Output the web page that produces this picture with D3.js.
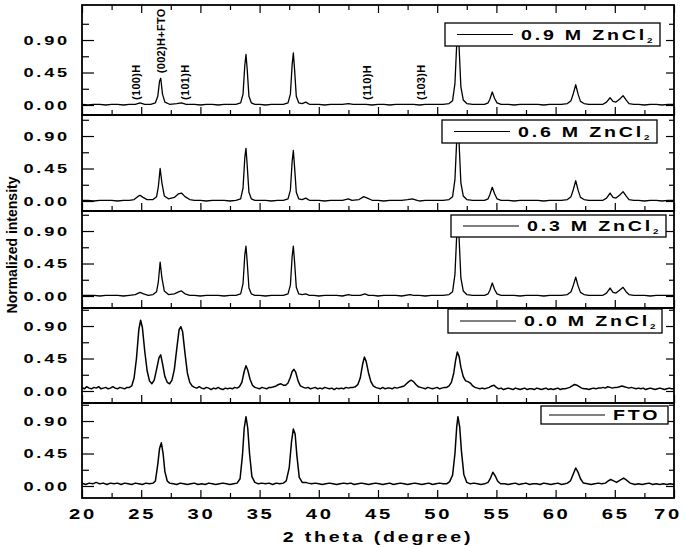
<!DOCTYPE html>
<html>
<head>
<meta charset="utf-8">
<script src="https://cdn.jsdelivr.net/npm/d3@7"></script>
<style>
  body { margin: 0; background: #fff; }
  svg { display: block; }
  text { font-family: "Liberation Sans", Arial, sans-serif; fill: #000; }
</style>
</head>
<body>
<div id="chart"></div>
<script>
// ---- data ----
const seriesLabels = ["0.9 M ZnCl", "0.6 M ZnCl", "0.3 M ZnCl", "0.0 M ZnCl", "FTO"];
const seriesSubs = ["2", "2", "2", "2", ""];

const xTicksMajor = [20, 25, 30, 35, 40, 45, 50, 55, 60, 65, 70];
const xTicksMinor = [22.5, 27.5, 32.5, 37.5, 42.5, 47.5, 52.5, 57.5, 62.5, 67.5];
const yTicksMajor = [0, 0.45, 0.9];
const yTicksMinor = [0.225, 0.675, 1.125];
const yTickLabels = ["0.00", "0.45", "0.90"];

const peakLabels = ["(100)H", "(002)H+FTO", "(101)H", "(110)H", "(103)H"];
const peakLabelAngles = [24.6, 26.7, 28.7, 44.1, 48.6];
const peakLabelBase = [0.07, 0.44, 0.07, 0.07, 0.07];

const spec09 = [[20.0,0.01],[20.5,0.00],[21.0,0.01],[21.5,0.01],[22.0,0.00],[22.5,0.01],[23.0,0.01],[23.5,0.00],[24.0,0.01],[24.5,0.01],[24.9,0.03],[25.3,0.01],[25.8,0.01],[26.2,0.03],[26.4,0.12],[26.55,0.33],[26.65,0.37],[26.8,0.15],[27.0,0.04],[27.4,0.01],[28.0,0.02],[28.4,0.03],[28.8,0.01],[29.5,0.01],[30.0,0.00],[30.5,0.01],[31.0,0.01],[31.5,0.00],[32.0,0.01],[32.5,0.01],[33.0,0.01],[33.4,0.03],[33.6,0.15],[33.75,0.55],[33.85,0.70],[33.95,0.50],[34.1,0.12],[34.3,0.03],[34.6,0.01],[35.0,0.01],[35.5,0.00],[36.0,0.01],[36.5,0.01],[37.0,0.01],[37.4,0.03],[37.6,0.15],[37.75,0.56],[37.85,0.72],[37.95,0.50],[38.1,0.12],[38.3,0.03],[38.6,0.02],[38.9,0.04],[39.2,0.01],[39.6,0.01],[40.0,0.01],[40.5,0.00],[41.0,0.01],[41.5,0.01],[42.0,0.01],[42.5,0.02],[42.9,0.01],[43.5,0.01],[44.0,0.01],[44.5,0.00],[45.0,0.01],[45.5,0.01],[46.0,0.00],[46.5,0.01],[47.0,0.01],[47.5,0.01],[48.0,0.01],[48.5,0.00],[49.0,0.01],[49.5,0.01],[50.0,0.01],[50.5,0.01],[51.0,0.02],[51.3,0.06],[51.5,0.30],[51.65,0.85],[51.75,1.00],[51.85,0.80],[52.0,0.25],[52.2,0.07],[52.5,0.02],[53.0,0.01],[53.5,0.01],[54.0,0.01],[54.3,0.03],[54.45,0.08],[54.65,0.18],[54.85,0.09],[55.05,0.03],[55.4,0.01],[56.0,0.01],[56.5,0.00],[57.0,0.01],[57.5,0.01],[58.0,0.01],[58.5,0.01],[59.0,0.00],[59.5,0.01],[60.0,0.01],[60.5,0.01],[61.0,0.02],[61.3,0.06],[61.5,0.16],[61.7,0.28],[61.9,0.15],[62.1,0.05],[62.4,0.02],[62.8,0.01],[63.5,0.01],[64.0,0.01],[64.3,0.04],[64.6,0.10],[64.85,0.05],[65.1,0.04],[65.4,0.08],[65.7,0.13],[65.95,0.07],[66.2,0.02],[66.6,0.01],[67.0,0.01],[67.5,0.00],[68.0,0.01],[68.5,0.01],[69.0,0.00],[69.5,0.01],[70.0,0.01]];

const spec06 = [[20.0,0.01],[20.5,0.01],[21.0,0.00],[21.5,0.01],[22.0,0.01],[22.5,0.01],[23.0,0.00],[23.5,0.01],[24.0,0.01],[24.4,0.02],[24.7,0.06],[24.9,0.08],[25.15,0.05],[25.5,0.02],[26.0,0.02],[26.3,0.06],[26.45,0.20],[26.6,0.45],[26.75,0.25],[26.95,0.07],[27.3,0.03],[27.8,0.05],[28.15,0.10],[28.4,0.11],[28.7,0.06],[29.1,0.02],[29.5,0.01],[30.0,0.01],[30.5,0.00],[31.0,0.01],[31.5,0.01],[32.0,0.01],[32.5,0.00],[33.0,0.01],[33.4,0.03],[33.6,0.18],[33.75,0.60],[33.85,0.73],[33.95,0.50],[34.1,0.12],[34.3,0.03],[34.6,0.01],[35.0,0.01],[35.5,0.01],[36.0,0.00],[36.5,0.01],[37.0,0.01],[37.4,0.03],[37.6,0.15],[37.75,0.55],[37.85,0.70],[37.95,0.48],[38.1,0.12],[38.3,0.03],[38.6,0.02],[38.9,0.04],[39.2,0.01],[39.6,0.01],[40.0,0.01],[40.5,0.00],[41.0,0.01],[41.5,0.01],[42.0,0.01],[42.5,0.03],[42.8,0.01],[43.4,0.02],[43.8,0.06],[44.1,0.04],[44.5,0.01],[45.0,0.01],[45.5,0.00],[46.0,0.01],[46.5,0.01],[47.0,0.01],[47.5,0.02],[47.9,0.03],[48.3,0.01],[48.5,0.00],[49.0,0.01],[49.5,0.01],[50.0,0.01],[50.5,0.01],[51.0,0.02],[51.3,0.06],[51.5,0.30],[51.65,0.85],[51.75,1.00],[51.85,0.80],[52.0,0.25],[52.2,0.07],[52.5,0.02],[53.0,0.01],[53.5,0.01],[54.0,0.01],[54.3,0.03],[54.45,0.09],[54.65,0.19],[54.85,0.10],[55.05,0.03],[55.4,0.01],[56.0,0.01],[56.5,0.00],[57.0,0.01],[57.5,0.01],[58.0,0.01],[58.5,0.01],[59.0,0.00],[59.5,0.01],[60.0,0.01],[60.5,0.01],[61.0,0.02],[61.3,0.06],[61.5,0.16],[61.7,0.28],[61.9,0.15],[62.1,0.05],[62.4,0.02],[62.8,0.01],[63.5,0.01],[64.0,0.01],[64.3,0.04],[64.6,0.11],[64.85,0.05],[65.1,0.04],[65.4,0.08],[65.7,0.13],[65.95,0.07],[66.2,0.02],[66.6,0.01],[67.0,0.01],[67.5,0.00],[68.0,0.01],[68.5,0.01],[69.0,0.00],[69.5,0.01],[70.0,0.01]];

const spec03 = [[20.0,0.01],[20.5,0.01],[21.0,0.01],[21.5,0.00],[22.0,0.01],[22.5,0.01],[23.0,0.01],[23.5,0.00],[24.0,0.01],[24.5,0.02],[24.9,0.05],[25.2,0.03],[25.6,0.01],[26.0,0.02],[26.3,0.06],[26.45,0.20],[26.6,0.47],[26.75,0.25],[26.95,0.07],[27.3,0.02],[27.8,0.03],[28.2,0.06],[28.4,0.07],[28.7,0.03],[29.1,0.01],[29.5,0.01],[30.0,0.00],[30.5,0.01],[31.0,0.01],[31.5,0.01],[32.0,0.00],[32.5,0.01],[33.0,0.01],[33.4,0.03],[33.6,0.17],[33.75,0.57],[33.85,0.69],[33.95,0.48],[34.1,0.11],[34.3,0.03],[34.6,0.01],[35.0,0.01],[35.5,0.00],[36.0,0.01],[36.5,0.01],[37.0,0.01],[37.4,0.03],[37.6,0.15],[37.75,0.55],[37.85,0.69],[37.95,0.48],[38.1,0.12],[38.3,0.03],[38.6,0.02],[38.9,0.03],[39.2,0.01],[39.6,0.01],[40.0,0.00],[40.5,0.01],[41.0,0.01],[41.5,0.01],[42.0,0.00],[42.5,0.02],[42.8,0.01],[43.5,0.01],[43.9,0.03],[44.2,0.01],[44.6,0.01],[45.0,0.00],[45.5,0.01],[46.0,0.01],[46.5,0.01],[47.0,0.00],[47.7,0.02],[48.0,0.01],[48.5,0.01],[49.0,0.00],[49.5,0.01],[50.0,0.01],[50.5,0.01],[51.0,0.02],[51.3,0.06],[51.5,0.30],[51.65,0.85],[51.75,1.00],[51.85,0.80],[52.0,0.25],[52.2,0.07],[52.5,0.02],[53.0,0.01],[53.5,0.01],[54.0,0.01],[54.3,0.03],[54.45,0.08],[54.65,0.18],[54.85,0.09],[55.05,0.03],[55.4,0.01],[56.0,0.01],[56.5,0.01],[57.0,0.00],[57.5,0.01],[58.0,0.01],[58.5,0.01],[59.0,0.00],[59.5,0.01],[60.0,0.01],[60.5,0.01],[61.0,0.02],[61.3,0.06],[61.5,0.15],[61.7,0.26],[61.9,0.14],[62.1,0.05],[62.4,0.02],[62.8,0.01],[63.5,0.01],[64.0,0.01],[64.3,0.04],[64.6,0.11],[64.85,0.05],[65.1,0.04],[65.4,0.08],[65.7,0.12],[65.95,0.06],[66.2,0.02],[66.6,0.01],[67.0,0.01],[67.5,0.01],[68.0,0.00],[68.5,0.01],[69.0,0.01],[69.5,0.01],[70.0,0.01]];

const spec00 = [[20.0,0.05],[20.2,0.03],[20.4,0.06],[20.6,0.04],[20.8,0.03],[21.0,0.05],[21.2,0.04],[21.4,0.06],[21.6,0.03],[21.8,0.04],[22.0,0.05],[22.2,0.03],[22.4,0.04],[22.6,0.06],[22.8,0.04],[23.0,0.03],[23.2,0.05],[23.4,0.04],[23.6,0.03],[23.8,0.05],[24.0,0.05],[24.2,0.07],[24.4,0.18],[24.6,0.45],[24.8,0.85],[24.95,0.98],[25.1,0.88],[25.3,0.55],[25.5,0.28],[25.7,0.14],[25.9,0.10],[26.1,0.15],[26.3,0.30],[26.5,0.46],[26.65,0.50],[26.8,0.38],[27.0,0.20],[27.2,0.12],[27.4,0.10],[27.6,0.15],[27.8,0.30],[28.0,0.58],[28.2,0.85],[28.35,0.89],[28.5,0.82],[28.7,0.52],[28.9,0.25],[29.1,0.12],[29.3,0.07],[29.5,0.05],[29.7,0.04],[29.9,0.06],[30.1,0.04],[30.3,0.03],[30.5,0.05],[30.7,0.04],[30.9,0.02],[31.1,0.04],[31.3,0.03],[31.5,0.05],[31.7,0.03],[31.9,0.02],[32.1,0.04],[32.3,0.03],[32.5,0.04],[32.7,0.03],[32.9,0.05],[33.1,0.04],[33.3,0.06],[33.5,0.12],[33.7,0.27],[33.85,0.35],[34.0,0.29],[34.2,0.16],[34.4,0.08],[34.6,0.05],[34.8,0.04],[35.0,0.03],[35.2,0.05],[35.4,0.04],[35.6,0.03],[35.8,0.05],[36.0,0.05],[36.2,0.06],[36.4,0.07],[36.6,0.09],[36.8,0.10],[37.0,0.08],[37.2,0.08],[37.4,0.11],[37.6,0.19],[37.75,0.27],[37.9,0.30],[38.05,0.26],[38.25,0.14],[38.45,0.07],[38.7,0.05],[38.9,0.04],[39.1,0.05],[39.3,0.03],[39.5,0.04],[39.7,0.05],[39.9,0.03],[40.1,0.04],[40.3,0.03],[40.5,0.05],[40.7,0.04],[40.9,0.03],[41.1,0.04],[41.3,0.02],[41.5,0.04],[41.7,0.03],[41.9,0.04],[42.1,0.03],[42.3,0.05],[42.5,0.04],[42.7,0.05],[42.9,0.05],[43.1,0.06],[43.3,0.09],[43.5,0.18],[43.7,0.37],[43.85,0.47],[44.0,0.41],[44.2,0.25],[44.4,0.13],[44.6,0.07],[44.8,0.05],[45.0,0.04],[45.2,0.03],[45.4,0.05],[45.6,0.03],[45.8,0.04],[46.0,0.04],[46.2,0.03],[46.4,0.05],[46.6,0.04],[46.8,0.05],[47.0,0.06],[47.2,0.07],[47.4,0.10],[47.6,0.13],[47.8,0.15],[48.0,0.13],[48.2,0.09],[48.4,0.06],[48.6,0.05],[48.8,0.04],[49.0,0.03],[49.2,0.05],[49.4,0.04],[49.6,0.03],[49.8,0.04],[50.0,0.05],[50.2,0.03],[50.4,0.04],[50.6,0.05],[50.8,0.05],[51.0,0.07],[51.2,0.12],[51.4,0.25],[51.55,0.42],[51.7,0.54],[51.85,0.48],[52.0,0.33],[52.2,0.20],[52.4,0.14],[52.6,0.13],[52.8,0.11],[53.0,0.07],[53.2,0.05],[53.4,0.04],[53.6,0.03],[53.8,0.04],[54.0,0.03],[54.2,0.04],[54.4,0.05],[54.6,0.07],[54.8,0.08],[55.0,0.05],[55.2,0.03],[55.4,0.04],[55.6,0.02],[55.8,0.03],[56.0,0.04],[56.2,0.03],[56.4,0.02],[56.6,0.04],[56.8,0.03],[57.0,0.02],[57.2,0.03],[57.4,0.04],[57.6,0.02],[57.8,0.03],[58.0,0.03],[58.2,0.02],[58.4,0.04],[58.6,0.03],[58.8,0.02],[59.0,0.03],[59.2,0.04],[59.4,0.02],[59.6,0.03],[59.8,0.02],[60.0,0.03],[60.2,0.04],[60.4,0.02],[60.6,0.03],[60.8,0.03],[61.0,0.04],[61.2,0.05],[61.4,0.07],[61.6,0.09],[61.8,0.08],[62.0,0.06],[62.2,0.04],[62.4,0.03],[62.6,0.03],[62.8,0.02],[63.0,0.03],[63.2,0.04],[63.4,0.03],[63.6,0.04],[63.8,0.04],[64.0,0.05],[64.2,0.04],[64.4,0.06],[64.6,0.05],[64.8,0.04],[65.0,0.05],[65.2,0.05],[65.4,0.06],[65.6,0.07],[65.8,0.06],[66.0,0.05],[66.2,0.04],[66.4,0.05],[66.6,0.04],[66.8,0.03],[67.0,0.04],[67.2,0.03],[67.4,0.04],[67.6,0.02],[67.8,0.03],[68.0,0.04],[68.2,0.03],[68.4,0.02],[68.6,0.03],[68.8,0.04],[69.0,0.03],[69.2,0.02],[69.4,0.03],[69.6,0.04],[69.8,0.03],[70.0,0.03]];

const specFTO = [[20.0,0.04],[20.3,0.02],[20.6,0.04],[20.9,0.03],[21.2,0.05],[21.5,0.03],[21.8,0.04],[22.1,0.02],[22.4,0.04],[22.7,0.03],[23.0,0.04],[23.3,0.02],[23.6,0.04],[23.9,0.03],[24.2,0.02],[24.5,0.04],[24.8,0.03],[25.1,0.02],[25.4,0.04],[25.7,0.03],[26.0,0.04],[26.2,0.07],[26.4,0.30],[26.55,0.52],[26.7,0.60],[26.85,0.45],[27.0,0.20],[27.2,0.07],[27.4,0.04],[27.7,0.03],[28.0,0.02],[28.3,0.04],[28.6,0.03],[28.9,0.02],[29.2,0.03],[29.5,0.04],[29.8,0.02],[30.1,0.03],[30.4,0.02],[30.7,0.04],[31.0,0.03],[31.3,0.02],[31.6,0.03],[31.9,0.04],[32.2,0.03],[32.5,0.02],[32.8,0.03],[33.1,0.04],[33.35,0.10],[33.55,0.42],[33.7,0.80],[33.85,0.96],[34.0,0.80],[34.15,0.45],[34.35,0.13],[34.6,0.05],[34.9,0.03],[35.2,0.04],[35.5,0.03],[35.8,0.04],[36.1,0.02],[36.4,0.04],[36.7,0.03],[37.0,0.04],[37.25,0.07],[37.5,0.25],[37.7,0.62],[37.85,0.79],[38.0,0.72],[38.15,0.42],[38.35,0.12],[38.6,0.05],[38.9,0.05],[39.1,0.04],[39.4,0.03],[39.7,0.04],[40.0,0.03],[40.3,0.02],[40.6,0.03],[40.9,0.04],[41.2,0.03],[41.5,0.02],[41.8,0.03],[42.1,0.04],[42.4,0.03],[42.7,0.04],[43.0,0.02],[43.3,0.03],[43.6,0.04],[43.9,0.03],[44.2,0.02],[44.5,0.03],[44.8,0.04],[45.1,0.03],[45.4,0.02],[45.7,0.03],[46.0,0.04],[46.3,0.02],[46.6,0.03],[46.9,0.04],[47.2,0.03],[47.5,0.02],[47.8,0.03],[48.1,0.04],[48.4,0.03],[48.7,0.02],[49.0,0.03],[49.3,0.04],[49.6,0.02],[49.9,0.03],[50.2,0.04],[50.5,0.03],[50.8,0.03],[51.05,0.06],[51.3,0.15],[51.5,0.45],[51.65,0.82],[51.75,0.96],[51.9,0.82],[52.05,0.48],[52.25,0.16],[52.5,0.05],[52.8,0.03],[53.1,0.04],[53.4,0.03],[53.7,0.02],[54.0,0.03],[54.3,0.05],[54.5,0.11],[54.7,0.19],[54.9,0.14],[55.1,0.07],[55.35,0.03],[55.7,0.03],[56.0,0.02],[56.3,0.03],[56.6,0.04],[56.9,0.02],[57.2,0.03],[57.5,0.04],[57.8,0.02],[58.1,0.03],[58.4,0.03],[58.7,0.02],[59.0,0.04],[59.3,0.03],[59.6,0.02],[59.9,0.03],[60.2,0.04],[60.5,0.02],[60.8,0.03],[61.0,0.04],[61.25,0.07],[61.45,0.15],[61.7,0.25],[61.9,0.19],[62.1,0.10],[62.35,0.04],[62.7,0.03],[63.0,0.02],[63.3,0.03],[63.6,0.04],[63.9,0.03],[64.2,0.04],[64.45,0.07],[64.65,0.09],[64.9,0.07],[65.15,0.05],[65.45,0.08],[65.75,0.11],[66.0,0.08],[66.3,0.04],[66.7,0.02],[67.0,0.03],[67.3,0.02],[67.6,0.03],[67.9,0.04],[68.2,0.02],[68.5,0.03],[68.8,0.02],[69.1,0.03],[69.4,0.02],[69.7,0.03],[70.0,0.02]];

const spectra = [spec09, spec06, spec03, spec00, specFTO];

// ---- layout ----
const width = 685, height = 547;
const plotLeft = 82, plotRight = 674;
const panelTop = [5, 115, 211, 308, 403];
const panelBottom = [115, 211, 308, 403, 498];
const zeroY = [105, 201, 296, 391, 486];
const pxPerUnit = 72.2;
// legend boxes: x, y, w, h
const legendBox = [[445, 23, 215, 23], [442, 120, 215, 23], [451, 215, 215, 22], [448, 309, 214, 24], [541, 406, 127, 18]];

const svg = d3.select("#chart").append("svg")
    .attr("width", width)
    .attr("height", height);

const x = d3.scaleLinear().domain([20, 70]).range([plotLeft, plotRight]);

// helper for the wide bold lettering used in the figure
function wideText(g, tx, ty, str, size, anchor, spacing, sx = 1.4) {
    return g.append("text")
        .attr("transform", `translate(${tx},${ty}) scale(${sx},1)`)
        .attr("text-anchor", anchor)
        .style("font-size", size + "px")
        .style("font-weight", "bold")
        .style("letter-spacing", spacing + "px")
        .text(str);
}

spectra.forEach((spec, i) => {
    const top = panelTop[i], bottom = panelBottom[i];
    const y = d3.scaleLinear()
        .domain([0, 1])
        .range([zeroY[i], zeroY[i] - pxPerUnit]);

    const g = svg.append("g");

    g.append("clipPath").attr("id", "clip" + i)
        .append("rect")
        .attr("x", plotLeft).attr("y", top)
        .attr("width", plotRight - plotLeft).attr("height", bottom - top);

    // spectrum
    const line = d3.line()
        .x(d => x(d[0]))
        .y(d => y(d[1]));
    g.append("path")
        .datum(spec)
        .attr("clip-path", `url(#clip${i})`)
        .attr("fill", "none")
        .attr("stroke", "#000")
        .attr("stroke-width", (i >= 3) ? 1.5 : 1.3)
        .attr("stroke-linejoin", "round")
        .attr("d", line);

    // x ticks pointing up from panel bottom
    g.append("g")
        .attr("transform", `translate(0,${bottom})`)
        .call(d3.axisBottom(x).tickValues(xTicksMajor).tickSize(-8).tickFormat(""));
    g.append("g")
        .attr("transform", `translate(0,${bottom})`)
        .call(d3.axisBottom(x).tickValues(xTicksMinor).tickSize(-5).tickFormat(""));

    if (i === 0) {
        g.append("g")
            .attr("transform", `translate(0,${top})`)
            .call(d3.axisTop(x).tickValues(xTicksMajor).tickSize(-8).tickFormat(""));
        g.append("g")
            .attr("transform", `translate(0,${top})`)
            .call(d3.axisTop(x).tickValues(xTicksMinor).tickSize(-5).tickFormat(""));
    }

    // y ticks, left and right, pointing inward
    g.append("g")
        .attr("transform", `translate(${plotLeft},0)`)
        .call(d3.axisLeft(y).tickValues(yTicksMajor).tickSize(-12).tickFormat(""));
    g.append("g")
        .attr("transform", `translate(${plotLeft},0)`)
        .call(d3.axisLeft(y).tickValues(yTicksMinor).tickSize(-7).tickFormat(""));
    g.append("g")
        .attr("transform", `translate(${plotRight},0)`)
        .call(d3.axisRight(y).tickValues(yTicksMajor).tickSize(-8).tickFormat(""));
    g.append("g")
        .attr("transform", `translate(${plotRight},0)`)
        .call(d3.axisRight(y).tickValues(yTicksMinor).tickSize(-5).tickFormat(""));

    // y tick labels
    yTicksMajor.forEach((v, k) => {
        wideText(g, 70, y(v) + 4.5, yTickLabels[k], 13, "end", 2);
    });

    // frame
    g.append("rect")
        .attr("x", plotLeft).attr("y", top)
        .attr("width", plotRight - plotLeft).attr("height", bottom - top)
        .attr("fill", "none")
        .attr("stroke", "#000")
        .attr("stroke-width", 1.8);

    // legend
    const [bx, by, bw, bh] = legendBox[i];
    g.append("rect")
        .attr("x", bx).attr("y", by)
        .attr("width", bw).attr("height", bh)
        .attr("fill", "#fff")
        .attr("stroke", "#000")
        .attr("stroke-width", 1.3);
    const ly = by + bh / 2;
    const lx0 = (i === 4) ? bx + 8 : bx + 12;
    g.append("line")
        .attr("x1", lx0).attr("x2", lx0 + 56)
        .attr("y1", ly).attr("y2", ly)
        .attr("stroke", "#000")
        .attr("stroke-width", 1);
    const lt = wideText(g, lx0 + 64, ly + 5, seriesLabels[i], 14, "start", 2);
    if (seriesSubs[i]) {
        lt.append("tspan")
            .attr("dy", 3)
            .style("font-size", "7px")
            .style("letter-spacing", "0px")
            .text(seriesSubs[i]);
    }

    if (i === 0) {
        // reflection labels
        peakLabels.forEach((lab, k) => {
            g.append("text")
                .attr("transform", `translate(${x(peakLabelAngles[k]) + 4},${y(peakLabelBase[k])}) rotate(-90)`)
                .attr("text-anchor", "start")
                .style("font-size", "11px")
                .style("font-weight", "bold")
                .style("letter-spacing", "0.3px")
                .text(lab);
        });
    }
});

svg.selectAll(".domain").remove();
svg.selectAll(".tick line").attr("stroke", "#000").attr("stroke-width", 1.2);

// x tick labels under the bottom panel; keep the last one inside the page
xTicksMajor.forEach(v => {
    const t = wideText(svg, x(v) + 1, 519, String(v), 15, "middle", 2, 1.35);
    const bb = t.node().getBoundingClientRect();
    if (bb.right > width - 2) {
        t.attr("transform", `translate(${x(v) + 1 - (bb.right - width + 3)},519) scale(1.35,1)`);
    }
});

// axis titles
wideText(svg, (plotLeft + plotRight) / 2, 542, "2 theta (degree)", 14, "middle", 2);

svg.append("text")
    .attr("transform", `translate(17,245) rotate(-90)`)
    .attr("text-anchor", "middle")
    .style("font-size", "14px")
    .style("font-weight", "bold")
    .text("Normalized intensity");
</script>
</body>
</html>
